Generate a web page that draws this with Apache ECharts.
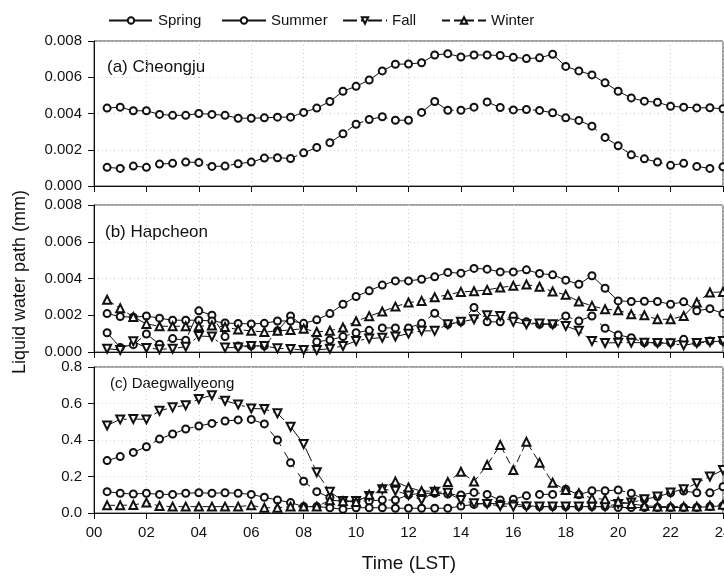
<!DOCTYPE html>
<html><head><meta charset="utf-8">
<script src="https://cdn.jsdelivr.net/npm/echarts@6/dist/echarts.min.js"></script>
<style>html,body{margin:0;padding:0;background:#fff}#c{width:724px;height:576px}</style>
</head><body><div id="c"></div>
<script>
// ---------- data ----------
const hours = [0.5,1,1.5,2,2.5,3,3.5,4,4.5,5,5.5,6,6.5,7,7.5,8,8.5,9,9.5,10,10.5,11,11.5,12,
  12.5,13,13.5,14,14.5,15,15.5,16,16.5,17,17.5,18,18.5,19,19.5,20,20.5,21,21.5,22,22.5,23,23.5,24];
const seriesNames = ['Spring','Summer','Fall','Winter'];
const xTickLabels = ['00','02','04','06','08','10','12','14','16','18','20','22','24'];
const panelTitles = ['(a) Cheongju','(b) Hapcheon','(c) Daegwallyeong'];
const yTitle = 'Liquid water path (mm)';
const xTitle = 'Time (LST)';

// (a) Cheongju
const aSpring = [0.00103,0.00097,0.0011,0.00103,0.00121,0.00125,0.00132,0.0013,0.00108,0.0011,
  0.00123,0.00132,0.00154,0.00156,0.00152,0.00183,0.00213,0.00239,0.00288,0.00341,0.00367,0.00382,
  0.00363,0.00363,0.00406,0.00466,0.00418,0.00418,0.00435,0.00464,0.00433,0.0042,
  0.00422,0.00417,0.00404,0.00376,0.00362,0.0033,0.00268,0.00222,0.00172,0.0015,
  0.00132,0.00114,0.00125,0.00108,0.00097,0.00106];
const aSummer = [0.0043,0.00435,0.00415,0.00415,0.00395,0.0039,0.0039,0.004,0.00395,0.0039,
  0.00374,0.00374,0.00376,0.0038,0.0038,0.00406,0.0043,0.00466,0.00523,0.0055,0.00585,0.00635,
  0.00672,0.00673,0.0068,0.00723,0.0073,0.00712,0.00723,0.00723,0.0072,0.0071,
  0.00703,0.00707,0.00727,0.0066,0.00635,0.00613,0.00569,0.00523,0.00486,0.00468,
  0.00462,0.0044,0.00435,0.00431,0.00432,0.00426];

// (b) Hapcheon
const bSpring = [0.00105,0.00025,0.0004,0.00098,0.00042,0.00073,0.00064,0.00224,0.002,0.00084,
  0.00033,0.00033,0.00033,0.00115,0.00196,0.0014,0.00056,0.00065,0.00084,0.00105,
  0.00118,0.00131,0.00131,0.00131,
  0.00156,0.00211,0.00151,0.00164,0.00242,0.00164,0.00164,0.00196,0.00164,0.00151,
  0.00151,0.00196,0.00169,0.00196,0.00129,0.00093,0.00078,0.00051,0.00051,0.00051,
  0.00069,0.00051,0.0006,0.0006];
const bSummer = [0.00209,0.00193,0.00189,0.00196,0.00184,0.00173,0.00173,0.00173,0.00169,0.00158,
  0.00155,0.00153,0.00156,0.00169,0.00169,0.00156,0.00175,0.00209,0.0026,0.00302,
  0.00333,0.00364,0.00387,0.00387,
  0.00396,0.00409,0.00433,0.00429,0.00455,0.00451,0.00436,0.00436,0.00447,0.00427,
  0.0042,0.00391,0.00369,0.00415,0.00347,0.00278,0.00275,0.00276,0.00275,0.0026,
  0.00273,0.00224,0.00236,0.00209];
const bFall = [0.00018,0.00011,0.00058,0.00022,0.00015,0.00018,0.00029,0.00087,0.00084,0.00024,
  0.00024,0.00033,0.00033,0.0002,0.00016,0.00011,0.00011,0.00018,0.00033,0.0006,
  0.00073,0.00078,0.00084,0.001,
  0.00115,0.00115,0.00151,0.00164,0.00178,0.002,0.00196,0.00164,0.00151,0.00155,
  0.00151,0.00142,0.00115,0.0006,0.00049,0.00051,0.00051,0.00051,0.00049,0.00047,
  0.00036,0.00049,0.00055,0.0006];
const bWinter = [0.00284,0.00238,0.00191,0.00153,0.0014,0.0014,0.0014,0.0014,0.00144,0.00136,
  0.00122,0.00115,0.00109,0.00115,0.0012,0.00127,0.00109,0.00116,0.00133,0.00167,
  0.00195,0.0022,0.00247,0.00269,
  0.00278,0.00298,0.00311,0.00327,0.00331,0.00338,0.00351,0.0036,0.00367,0.00355,
  0.00329,0.00311,0.00275,0.00251,0.00233,0.00227,0.00205,0.002,0.00178,0.00178,
  0.00196,0.00269,0.00324,0.00327];

// (c) Daegwallyeong
const cSpring = [0.287,0.309,0.332,0.363,0.405,0.433,0.46,0.477,0.491,0.504,
  0.51,0.513,0.488,0.4,0.276,0.174,0.117,
  0.085,0.066,0.066,0.066,0.071,0.071,0.1,0.108,0.108,0.104,
  0.099,0.113,0.102,0.071,0.075,0.095,0.102,0.102,0.13,0.1,
  0.122,0.122,0.126,0.108,0.075,0.09,0.11,0.12,0.111,0.111,0.144];
const cSummer = [0.117,0.108,0.104,0.108,0.102,0.102,0.108,0.111,0.108,0.111,
  0.108,0.102,0.086,0.071,0.057,0.035,0.035,0.029,0.02,0.029,
  0.029,0.029,0.026,0.026,
  0.026,0.026,0.026,0.038,0.047,0.053,0.05,0.05,0.04,0.035,
  0.035,0.035,0.035,0.035,0.035,0.03,0.03,0.03,0.03,0.03,
  0.03,0.03,0.035,0.04];
const cFall = [0.48,0.513,0.515,0.513,0.56,0.579,0.59,0.625,0.645,0.615,
  0.595,0.573,0.57,0.546,0.473,0.378,0.223,0.117,
  0.066,0.066,0.093,0.13,0.122,0.099,0.071,0.117,0.111,0.071,
  0.053,0.05,0.038,0.035,0.035,0.035,0.035,0.035,0.035,0.035,
  0.035,0.05,0.057,0.075,0.09,0.113,0.13,0.163,0.2,0.236];
const cWinter = [0.042,0.042,0.044,0.057,0.038,0.035,0.035,0.035,0.035,0.035,
  0.035,0.042,0.029,0.029,0.035,0.035,0.035,0.07,0.065,0.06,
  0.1,0.135,0.172,0.14,
  0.12,0.12,0.17,0.226,0.172,0.263,0.373,0.236,0.39,0.276,
  0.166,0.126,0.108,0.08,0.075,0.062,0.05,0.04,0.035,0.035,
  0.035,0.035,0.04,0.045];

// ---------- chart ----------
const FONT = '"Liberation Sans", Arial, sans-serif';
const INK = '#111';
const styles = {
  Spring: {symbol:'emptyCircle', size:7, rotate:0, dash:[18,7]},
  Summer: {symbol:'emptyCircle', size:7, rotate:0, dash:'solid'},
  Fall:   {symbol:'emptyTriangle', size:8, rotate:180, dash:[14,4,3,4]},
  Winter: {symbol:'emptyTriangle', size:8, rotate:0, dash:[8,4]}
};
const panels = [
  {top:41, height:145, max:0.008, interval:0.002, dec:3, data:{Spring:aSpring, Summer:aSummer}},
  {top:205, height:147, max:0.008, interval:0.002, dec:3, data:{Spring:bSpring, Summer:bSummer, Fall:bFall, Winter:bWinter}},
  {top:367, height:146, max:0.8, interval:0.2, dec:1, data:{Spring:cSpring, Summer:cSummer, Fall:cFall, Winter:cWinter}}
];
const grids = [], xAxes = [], yAxes = [], series = [];
panels.forEach((p, g) => {
  grids.push({left:94, width:629, top:p.top, height:p.height, show:true, borderColor:'#444', borderWidth:1,
    backgroundColor:'transparent', containLabel:false, outerBoundsMode:'none'});
  xAxes.push({
    type:'value', gridIndex:g, min:0, max:24, interval:2,
    axisLine:{show:true, onZero:false, lineStyle:{color:INK, width:1}},
    axisTick:{show:true, inside:false, length:6, lineStyle:{color:INK}},
    axisLabel:{show:g===2, margin:12, fontSize:15, color:INK, fontFamily:FONT,
      hideOverlap:false, alignMaxLabel:'center', alignMinLabel:'center',
      formatter:(v)=>xTickLabels[Math.round(v/2)]},
    splitLine:{show:true, lineStyle:{color:'#d0d0d0', type:[1,3], width:1}}
  });
  yAxes.push({
    type:'value', gridIndex:g, min:0, max:p.max, interval:p.interval,
    axisLine:{show:true, lineStyle:{color:INK, width:1}},
    axisTick:{show:true, inside:false, length:6, lineStyle:{color:INK}},
    axisLabel:{margin:12, fontSize:15, color:INK, fontFamily:FONT, formatter:(v)=>v.toFixed(p.dec)},
    splitLine:{show:true, lineStyle:{color:'#d0d0d0', type:[1,3], width:1}}
  });
  Object.keys(p.data).forEach(name => {
    const s = styles[name];
    const vals = p.data[name];
    series.push({
      type:'line', name:name, xAxisIndex:g, yAxisIndex:g,
      data: hours.map((h,i)=>[h, vals[i]]),
      symbol:s.symbol, symbolSize:s.size, symbolRotate:s.rotate, showAllSymbol:true,
      lineStyle:{color:INK, width:1, type:s.dash},
      itemStyle:{color:INK, borderWidth:1},
      emphasis:{disabled:true}, animation:false
    });
  });
});
const legendLefts = [103, 216, 337, 436];
const legends = seriesNames.map((n,i)=>({
  data:[n], left:legendLefts[i], top:8, itemWidth:44, itemHeight:8, itemGap:0,
  selectedMode:false, textStyle:{fontSize:15, color:INK, fontFamily:FONT}
}));
const titlePos = [{x:107, y:67, fs:17}, {x:105, y:232, fs:17}, {x:110, y:384, fs:15}];
const graphics = panelTitles.map((t,i)=>({
  type:'text', x:titlePos[i].x, y:titlePos[i].y,
  style:{text:t, fontSize:titlePos[i].fs, fill:INK, fontFamily:FONT, textVerticalAlign:'middle', textAlign:'left'}
}));
graphics.push({type:'text', x:20, y:282, rotation:Math.PI/2,
  style:{text:yTitle, fontSize:18, fill:INK, fontFamily:FONT, textAlign:'center', textVerticalAlign:'middle'}});
graphics.push({type:'text', x:409, y:564,
  style:{text:xTitle, fontSize:19, fill:INK, fontFamily:FONT, textAlign:'center', textVerticalAlign:'middle'}});

const chart = echarts.init(document.getElementById('c'), null, {renderer:'canvas'});
chart.setOption({
  animation:false, backgroundColor:'#fff',
  legend:legends, grid:grids, xAxis:xAxes, yAxis:yAxes, series:series, graphic:graphics
});
</script></body></html>
